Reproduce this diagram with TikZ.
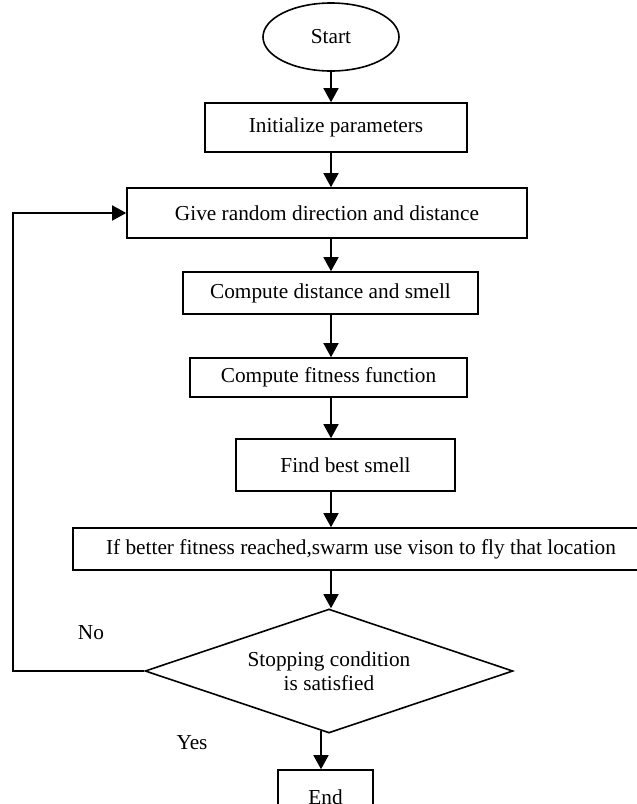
\documentclass[tikz,border=0pt]{standalone}
\usepackage{fontspec}
\setmainfont{Liberation Serif}
\usepackage{tikz}
\usetikzlibrary{arrows.meta,positioning,shapes.geometric}
\newcommand{\fsz}{\fontsize{10.65}{12}\selectfont}

\begin{document}
\begin{tikzpicture}[x=0.5pt,y=-0.5pt,line width=0.8pt,
  box/.style={draw,inner sep=0pt,align=center,font=\fsz},
  lbl/.style={inner sep=0pt,font=\fsz},
  >={Triangle[width=7.5pt,length=7pt]}]
\useasboundingbox (0,0) rectangle (637,804);
\node[box,ellipse,minimum width=68pt,minimum height=34pt] (start) at (331,37) {Start};
\node[box,minimum width=131pt,minimum height=24.5pt] (init) at (336,127.5) {Initialize parameters};
\node[box,minimum width=200pt,minimum height=25pt] (give) at (327,213) {Give random direction and distance};
\node[box,minimum width=147.5pt,minimum height=21pt] (dist) at (330.5,293) {Compute distance and smell};
\node[box,minimum width=138.5pt,minimum height=19.5pt] (fit) at (328.5,377.5) {Compute fitness function};
\node[box,minimum width=109.5pt,minimum height=26pt] (best) at (345.5,465) {Find best smell};
\node[box,minimum width=288pt,minimum height=21pt] (better) at (361,549) {If better fitness reached,swarm use vison to fly that location};
\node[box,diamond,aspect=2.97,minimum width=184pt,minimum height=62pt] (cond) at (329,671) {Stopping condition\\is satisfied};
\node[box,minimum width=47.5pt,minimum height=27pt] (end) at (325.5,797) {End};
\node[lbl] (no) at (91,633) {No};
\node[lbl] (yes) at (192,743) {Yes};
\coordinate (lx) at (13,0);
\draw[->] (start.south) -- (start.south |- init.north);
\draw[->] (init.south -| start) -- (give.north -| start);
\draw[->] (give.south -| start) -- (dist.north -| start);
\draw[->] (dist.south -| start) -- (fit.north -| start);
\draw[->] (fit.south -| start) -- (best.north -| start);
\draw[->] (best.south -| start) -- (better.north -| start);
\draw[->] (better.south -| start) -- (cond.north -| start);
\draw[->] ([xshift=-4pt,yshift=1.5pt]cond.south) -- ([xshift=-4pt]cond.south |- end.north);
\draw[->] (cond.west) -- (cond.west -| lx) |- (give.west);
\end{tikzpicture}
\end{document}
